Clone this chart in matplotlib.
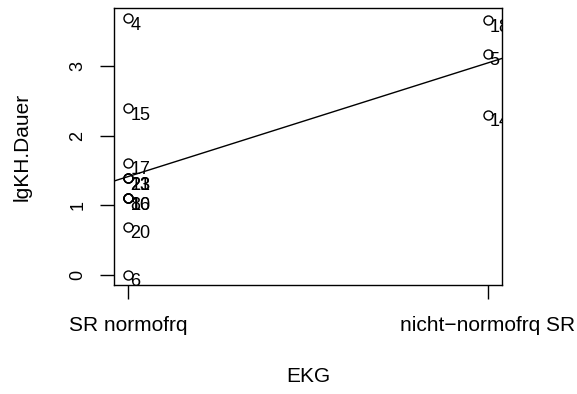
import matplotlib
matplotlib.use("Agg")
import matplotlib.pyplot as plt
import numpy as np

plt.rcParams['font.family'] = ['Liberation Sans', 'DejaVu Sans']

# EKG group (1 = SR normofrq, 2 = nicht-normofrq SR), log of stay duration, row labels
ekg = [1, 1, 1, 1, 1, 1, 1, 1, 1, 1, 1, 1, 2, 2, 2]
lgdauer = [3.69, 2.40, 1.61, 1.39, 1.39, 1.39, 1.10, 1.10, 1.10, 1.10, 0.69, 0.00,
           3.66, 3.18, 2.30]
labels = ['4', '15', '17', '13', '21', '23', '1', '8', '10', '16', '20', '6',
          '18', '5', '14']
ekg_levels = ['SR normofrq', 'nicht\u2212normofrq SR']

fs = 15
fig = plt.figure(figsize=(5.77, 3.94), dpi=100)
ax = fig.add_axes([114/577, 1 - 285/394, (502-114)/577, (285-8)/394])

x = np.array(ekg, dtype=float)
y = np.array(lgdauer)
ax.plot(x, y, 'o', mfc='none', mec='black', ms=6.5, mew=1.0, zorder=3)
for xi, yi, lab in zip(x, y, labels):
    ax.annotate(lab, (xi, yi), xytext=(1.5, 1), textcoords='offset points',
                ha='left', va='top', fontsize=13, clip_on=True)

# regression line (like abline(lm(...)))
b, a = np.polyfit(x, y, 1)
ax.axline((0, a), slope=b, color='black', lw=1.0)

ax.set_xlim(0.96, 2.04)
ax.set_ylim(y.min() - 0.04*np.ptp(y), y.max() + 0.04*np.ptp(y))
ax.set_xticks([1, 2])
ax.set_xticklabels(ekg_levels, fontsize=fs)
ax.set_yticks([0, 1, 2, 3])
ax.set_yticklabels(['0', '1', '2', '3'], fontsize=13, rotation=90, va='center')
ax.tick_params(length=10, width=1.0)
ax.tick_params(axis='x', pad=12)
ax.tick_params(axis='y', pad=10)
for s in ax.spines.values():
    s.set_linewidth(1.0)
ax.set_xlabel('EKG', fontsize=fs, va='center')
ax.xaxis.set_label_coords(0.5, (285 - 377) / 277)
ax.set_ylabel('lgKH.Dauer', fontsize=fs, va='center')
ax.yaxis.set_label_coords((22 - 114) / 388, 0.5)

fig.savefig('out.png', dpi=100)
